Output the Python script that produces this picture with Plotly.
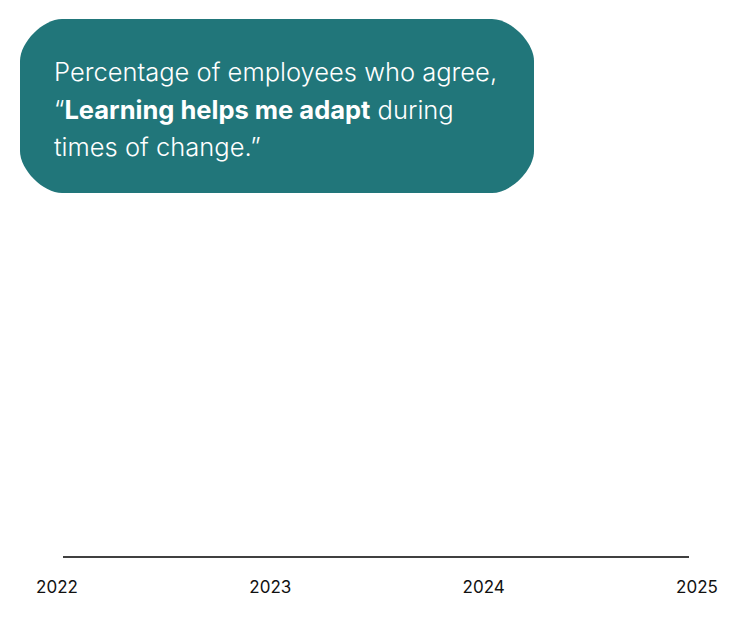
import plotly.graph_objects as go

# Data: survey years, values not shown yet in the reference (empty chart)
years = [2022, 2023, 2024, 2025]
agree_pct = [None, None, None, None]
tick_text = ["2022", "2023", "2024", "2025"]
title_lines = [
    "Percentage of employees who agree,",
    "“<b>Learning helps me adapt</b> during",
    "times of change.”",
]

OFF = 8  # page body margin
W, H = 750, 626
L, R, T, B = 57 - OFF, 53 + OFF, 210 - OFF, 69 + OFF
pw, ph = W - L - R, H - T - B

def px(x):
    return (x - OFF - L) / pw

def py(y):
    return (H - B - (y - OFF)) / ph

# rounded title box in paper coords
def rounded_box(x0, y0, x1, y1, r):
    k = 0.45 * r
    pts = [
        f"M {px(x0 + r)},{py(y0)}",
        f"L {px(x1 - r)},{py(y0)}",
        f"C {px(x1 - r + k)},{py(y0)} {px(x1)},{py(y0 + r - k)} {px(x1)},{py(y0 + r)}",
        f"L {px(x1)},{py(y1 - r)}",
        f"C {px(x1)},{py(y1 - r + k)} {px(x1 - r + k)},{py(y1)} {px(x1 - r)},{py(y1)}",
        f"L {px(x0 + r)},{py(y1)}",
        f"C {px(x0 + r - k)},{py(y1)} {px(x0)},{py(y1 - r + k)} {px(x0)},{py(y1 - r)}",
        f"L {px(x0)},{py(y0 + r)}",
        f"C {px(x0)},{py(y0 + r - k)} {px(x0 + r - k)},{py(y0)} {px(x0 + r)},{py(y0)}",
        "Z",
    ]
    return " ".join(pts)

fig = go.Figure()
fig.add_trace(go.Scatter(x=years, y=agree_pct, mode="lines",
                         line=dict(color="#21767A", width=3), hoverinfo="skip"))

fig.add_shape(type="path", xref="paper", yref="paper",
              path=rounded_box(20, 19, 534, 193, 42),
              fillcolor="#21767A", line=dict(width=0), layer="below")

# baseline
fig.add_shape(type="line", xref="paper", yref="paper",
              x0=px(63), x1=px(689), y0=py(557), y1=py(557),
              line=dict(color="black", width=1.3))

for i, line in enumerate(title_lines):
    fig.add_annotation(
        xref="paper", yref="paper", x=px(52), y=py(72 + 37 * i),
        xanchor="left", yanchor="middle", align="left", showarrow=False,
        text=line,
        font=dict(family="Inter", size=25.5, color="white", weight=300),
    )

fig.update_layout(
    width=W, height=H,
    margin=dict(l=L, r=R, t=T, b=B),
    paper_bgcolor="white", plot_bgcolor="white",
    showlegend=False,
    xaxis=dict(range=[2022, 2025], tickvals=years, ticktext=tick_text,
               showgrid=False, zeroline=False, showline=False,
               ticks="", ticklabelstandoff=18,
               tickfont=dict(family="Inter", size=17, color="#111")),
    yaxis=dict(range=[0, 100], visible=False),
)

fig.write_html("out.html")
